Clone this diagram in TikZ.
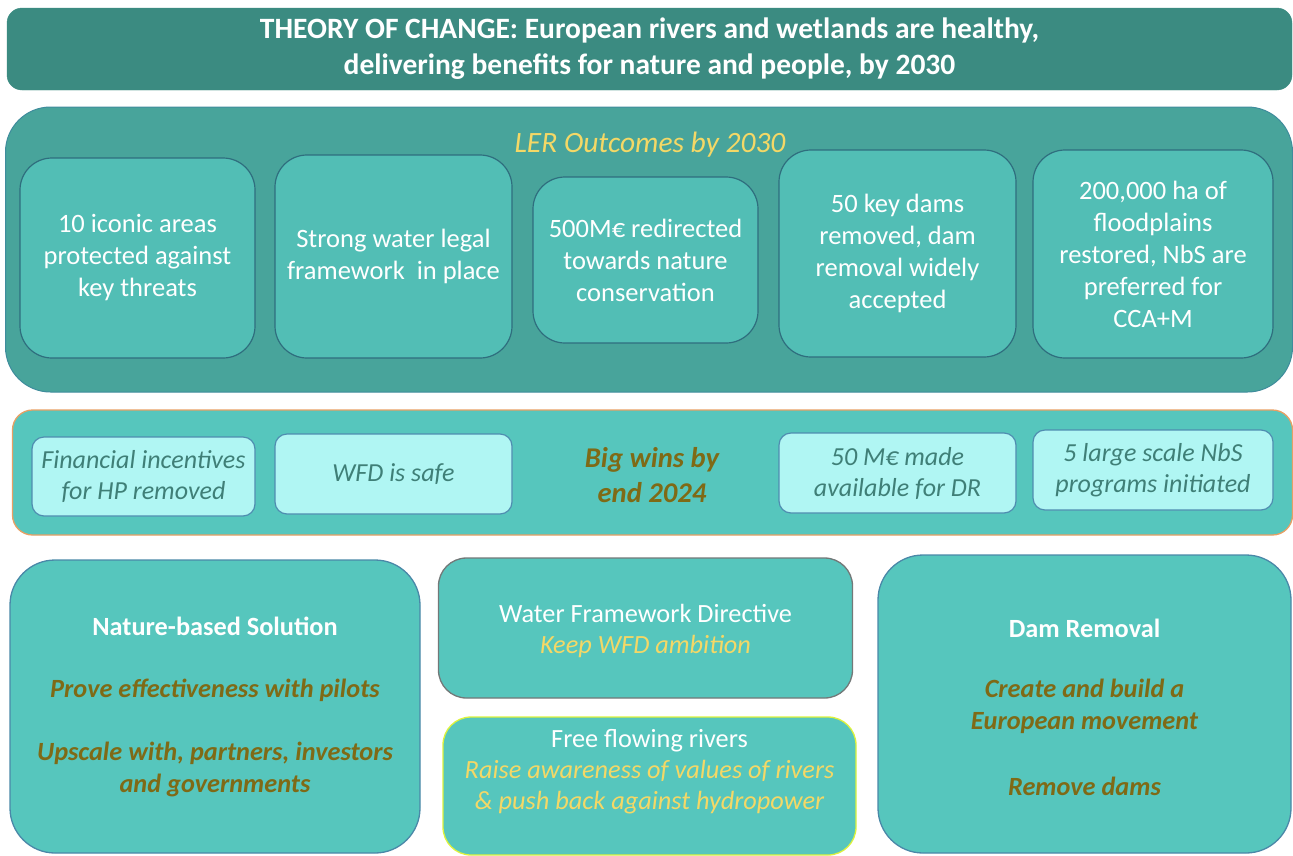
\documentclass[tikz,border=0pt]{standalone}
\usepackage{fontspec}
\setmainfont{Carlito}
\definecolor{titlebg}{HTML}{3B8B81}
\definecolor{lerbg}{HTML}{48A49B}
\definecolor{lerborder}{HTML}{3F8C9C}
\definecolor{inbg}{HTML}{52BEB5}
\definecolor{inborder}{HTML}{2F6E7E}
\definecolor{bandbg}{HTML}{56C6BD}
\definecolor{bandborder}{HTML}{E8A064}
\definecolor{lightbg}{HTML}{B0F6F3}
\definecolor{lightborder}{HTML}{4F8DB0}
\definecolor{lighttext}{HTML}{3F7F77}
\definecolor{olivetext}{HTML}{7F6A16}
\definecolor{yelltext}{HTML}{F4D866}
\definecolor{greyborder}{HTML}{737878}
\definecolor{limeborder}{HTML}{DDF23C}
\definecolor{blueborder}{HTML}{4A88A8}
\tikzset{
  base/.style={inner sep=0pt, align=center, font=\fontsize{26.5}{32}\selectfont},
  titlebox/.style={base, rounded corners=15pt, fill=titlebg, draw=titlebg, text=white},
  lerbox/.style={base, rounded corners=45pt, fill=lerbg, draw=lerborder, line width=1pt},
  outcomebox/.style={base, rounded corners=32pt, fill=inbg, draw=inborder, line width=1.2pt, text=white},
  bandbox/.style={base, rounded corners=20pt, fill=bandbg, draw=bandborder, line width=1.3pt},
  winbox/.style={base, rounded corners=12pt, fill=lightbg, draw=lightborder, line width=1.2pt, text=lighttext, font=\fontsize{26}{31}\selectfont\itshape},
  bottombox/.style={base, rounded corners=45pt, fill=bandbg, line width=1.3pt},
  headtext/.style={base, text=white, font=\fontsize{26.3}{32}\selectfont},
  olivetxt/.style={base, text=olivetext, font=\fontsize{26.3}{32}\selectfont\bfseries\itshape},
  yelltxt/.style={base, text=yelltext, font=\fontsize{26.3}{31}\selectfont\itshape}
}
\begin{document}
\begin{tikzpicture}[x=1pt,y=-1pt]
\useasboundingbox (0,0) rectangle (1293,855);
% title
\node[titlebox, minimum width=1285pt, minimum height=82pt,
  font=\fontsize{29.5}{36}\selectfont\bfseries] (title) at (649.5,49)
  {THEORY OF CHANGE: European rivers and wetlands are healthy,\\delivering benefits for nature and people, by 2030};
% LER outcomes
\node[lerbox, minimum width=1287pt, minimum height=285pt] (ler) at (649,249.5) {};
\node[base, text=yelltext, font=\fontsize{29.5}{30}\selectfont\itshape] (lertitle) at (650,145) {LER Outcomes by 2030};
\node[outcomebox, minimum width=235pt, minimum height=200pt] (o1) at (137.5,258) {10 iconic areas\\protected against\\key threats};
\node[outcomebox, minimum width=237pt, minimum height=203pt] (o2) at (393.5,256.5) {Strong water legal\\framework\ \ in place};
\node[outcomebox, minimum width=225pt, minimum height=166pt] (o3) at (645.5,260) {500M€ redirected\\towards nature\\conservation};
\node[outcomebox, minimum width=237pt, minimum height=207pt] (o4) at (897.5,253.5) {50 key dams\\removed, dam\\removal widely\\accepted};
\node[outcomebox, minimum width=240pt, minimum height=208pt] (o5) at (1153,254) {200,000 ha of\\floodplains\\restored, NbS are\\preferred for\\CCA+M};
% Big wins band
\node[bandbox, minimum width=1280pt, minimum height=125pt] (band) at (652.5,472.5) {};
\node[winbox, minimum width=223pt, minimum height=79pt] (w1) at (143.5,476.5) {Financial incentives\\for HP removed};
\node[winbox, minimum width=237pt, minimum height=80pt] (w2) at (393.5,474) {WFD is safe};
\node[base, text=olivetext, font=\fontsize{28.6}{35}\selectfont\bfseries\itshape] (bigwins) at (652,475) {Big wins by\\end 2024};
\node[winbox, minimum width=237pt, minimum height=80pt] (w3) at (897.5,473) {50 M€ made\\available for DR};
\node[winbox, minimum width=240pt, minimum height=80pt] (w4) at (1153,470) {5 large scale NbS\\programs initiated};
% bottom boxes
\node[bottombox, draw=blueborder, minimum width=410pt, minimum height=293pt] (nbs) at (215,706.5) {};
\node[headtext, font=\fontsize{26.3}{32}\selectfont\bfseries] (nbshead) at (215,626) {Nature-based Solution};
\node[olivetxt] (nbs1) at (215,690) {Prove effectiveness with pilots};
\node[olivetxt] (nbs2) at (215,769) {Upscale with, partners, investors\\and governments};
\node[bottombox, rounded corners=28pt, draw=greyborder, minimum width=414pt, minimum height=140pt] (wfd) at (645.5,628) {};
\node[headtext] (wfdhead) at (645.5,613) {Water Framework Directive};
\node[yelltxt] (wfd1) at (645.5,646) {Keep WFD ambition};
\node[bottombox, rounded corners=28pt, draw=limeborder, minimum width=413pt, minimum height=138pt] (ffr) at (649.5,786) {};
\node[headtext] (ffrhead) at (649.5,741) {Free flowing rivers};
\node[yelltxt] (ffr1) at (649.5,787.5) {Raise awareness of values of rivers\\\& push back against hydropower};
\node[bottombox, draw=blueborder, minimum width=413pt, minimum height=298pt] (dam) at (1084.5,704) {};
\node[headtext, font=\fontsize{26.3}{32}\selectfont\bfseries] (damhead) at (1084.5,628) {Dam Removal};
\node[olivetxt] (dam1) at (1084.5,706.5) {Create and build a\\European movement};
\node[olivetxt] (dam2) at (1084.5,786) {Remove dams};
\end{tikzpicture}
\end{document}
